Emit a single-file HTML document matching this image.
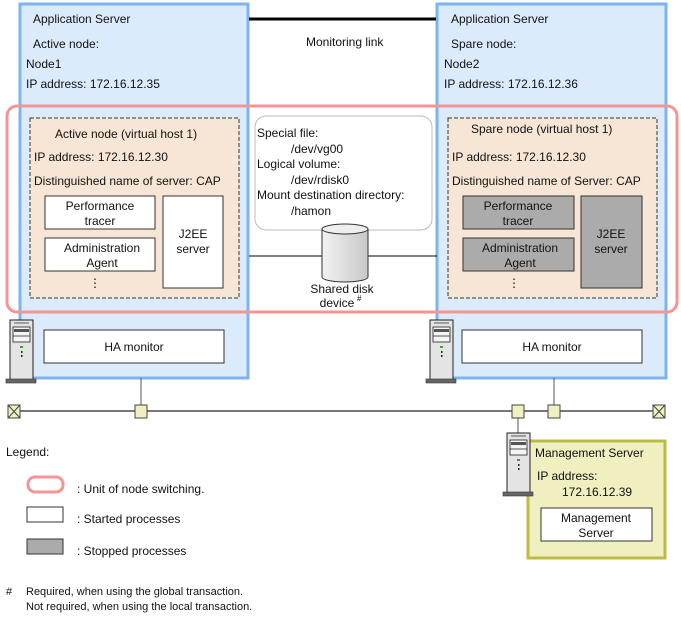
<!DOCTYPE html>
<html><head><meta charset="utf-8"><style>
body{margin:0;background:#fff}
svg text{font-family:"Liberation Sans",sans-serif;font-size:12px;fill:#111}
</style></head><body>
<svg width="681" height="617" viewBox="0 0 681 617" xmlns="http://www.w3.org/2000/svg">
<defs>
<g id="srv">
<rect x="4" y="0" width="23" height="60" fill="#e4e4e4" stroke="#222" stroke-width="1"/>
<line x1="8" y1="3" x2="23" y2="3" stroke="#888" stroke-width="1.5"/>
<rect x="7" y="7" width="17" height="15" fill="#f4f4f4" stroke="#222" stroke-width="0.8"/>
<rect x="8" y="9" width="15" height="3" fill="#555"/>
<line x1="7" y1="16" x2="24" y2="16" stroke="#222" stroke-width="0.8"/>
<rect x="14" y="26" width="3" height="2" fill="#3a3"/>
<rect x="15" y="31" width="1.5" height="2" fill="#222"/>
<rect x="15" y="35" width="1.5" height="2" fill="#222"/>
<rect x="0" y="59" width="30" height="4" fill="#666" stroke="#333" stroke-width="0.6"/>
</g>
</defs>
<!-- app servers -->
<rect x="20" y="4" width="228" height="374" fill="#dcebfb" stroke="#7db4ee" stroke-width="3"/>
<rect x="437" y="4" width="229" height="374" fill="#dcebfb" stroke="#7db4ee" stroke-width="3"/>
<line x1="249" y1="19" x2="436" y2="19" stroke="#000" stroke-width="3"/>
<text x="306" y="46">Monitoring link</text>
<text x="33" y="23">Application Server</text>
<text x="33" y="48">Active node:</text>
<text x="26" y="68">Node1</text>
<text x="26" y="88">IP address: 172.16.12.35</text>
<text x="451" y="23">Application Server</text>
<text x="451" y="48">Spare node:</text>
<text x="444" y="68">Node2</text>
<text x="444" y="88">IP address: 172.16.12.36</text>
<!-- shared disk line -->
<line x1="249" y1="256" x2="437" y2="256" stroke="#000" stroke-width="1"/>
<!-- red unit -->
<rect x="7" y="106" width="670" height="206" rx="10" fill="none" stroke="#f59494" stroke-width="3"/>
<!-- left dashed -->
<rect x="30" y="118" width="209" height="180" fill="#f7e6d6" stroke="#333" stroke-width="1" stroke-dasharray="4,2"/>
<text x="55" y="138">Active node (virtual host 1)</text>
<text x="34" y="161">IP address: 172.16.12.30</text>
<text x="34" y="185">Distinguished name of server: CAP</text>
<rect x="45" y="196" width="110" height="33" fill="#fff" stroke="#333"/>
<text x="100" y="210" text-anchor="middle">Performance</text>
<text x="100" y="225" text-anchor="middle">tracer</text>
<rect x="45" y="238" width="110" height="33" fill="#fff" stroke="#333"/>
<text x="102" y="252" text-anchor="middle">Administration</text>
<text x="102" y="267" text-anchor="middle">Agent</text>
<rect x="163" y="196" width="60" height="92" fill="#fff" stroke="#333"/>
<text x="193" y="238" text-anchor="middle">J2EE</text>
<text x="193" y="253" text-anchor="middle">server</text>
<text x="95" y="287" text-anchor="middle">⋮</text>
<!-- right dashed -->
<rect x="448" y="118" width="209" height="180" fill="#f7e6d6" stroke="#333" stroke-width="1" stroke-dasharray="4,2"/>
<text x="471" y="133">Spare node (virtual host 1)</text>
<text x="452" y="161">IP address: 172.16.12.30</text>
<text x="452" y="185">Distinguished name of Server: CAP</text>
<rect x="463" y="196" width="111" height="33" fill="#ababab" stroke="#333"/>
<text x="518" y="210" text-anchor="middle">Performance</text>
<text x="518" y="225" text-anchor="middle">tracer</text>
<rect x="463" y="238" width="111" height="33" fill="#ababab" stroke="#333"/>
<text x="520" y="252" text-anchor="middle">Administration</text>
<text x="520" y="267" text-anchor="middle">Agent</text>
<rect x="581" y="196" width="61" height="92" fill="#ababab" stroke="#333"/>
<text x="611" y="238" text-anchor="middle">J2EE</text>
<text x="611" y="253" text-anchor="middle">server</text>
<text x="514" y="287" text-anchor="middle">⋮</text>
<!-- center box -->
<rect x="255" y="116" width="177" height="114" rx="11" fill="#fff" stroke="#bbb"/>
<text x="257" y="137">Special file:</text>
<text x="291" y="153">/dev/vg00</text>
<text x="257" y="168">Logical volume:</text>
<text x="291" y="184">/dev/rdisk0</text>
<text x="257" y="199">Mount destination directory:</text>
<text x="291" y="215">/hamon</text>
<!-- cylinder -->
<defs><linearGradient id="cg" x1="0" x2="1"><stop offset="0" stop-color="#f2f2f2"/><stop offset="1" stop-color="#c8c8c8"/></linearGradient></defs>
<path d="M322,229 v48 a23,5 0 0 0 46,0 v-48" fill="url(#cg)" stroke="#333"/>
<ellipse cx="345" cy="229" rx="23" ry="5" fill="#eee" stroke="#333"/>
<text x="342" y="293" text-anchor="middle">Shared disk</text>
<text x="337" y="307" text-anchor="middle">device</text>
<text x="357" y="301" style="font-size:8px">#</text>
<!-- HA monitor -->
<rect x="44" y="330" width="180" height="33" fill="#fff" stroke="#333"/>
<text x="134" y="351" text-anchor="middle">HA monitor</text>
<rect x="462" y="330" width="180" height="33" fill="#fff" stroke="#333"/>
<text x="552" y="351" text-anchor="middle">HA monitor</text>
<use href="#srv" x="6" y="320"/>
<use href="#srv" x="426" y="320"/>
<!-- network -->
<line x1="14" y1="411" x2="659" y2="411" stroke="#777" stroke-width="2"/>
<line x1="141" y1="378" x2="141" y2="405" stroke="#555"/>
<line x1="554" y1="378" x2="554" y2="405" stroke="#555"/>
<line x1="518" y1="417" x2="518" y2="433" stroke="#555"/>
<g fill="#f0efc0" stroke="#444">
<rect x="135" y="405" width="12" height="13"/>
<rect x="512" y="405" width="12" height="13"/>
<rect x="548" y="405" width="12" height="13"/>
</g>
<g fill="#f0efc0" stroke="#444">
<rect x="8" y="405" width="12" height="13"/>
<path d="M8,405 L20,418 M20,405 L8,418"/>
<rect x="653" y="405" width="12" height="13"/>
<path d="M653,405 L665,418 M665,405 L653,418"/>
</g>
<!-- management server -->
<rect x="528" y="441" width="137" height="117" fill="#f0efbf" stroke="#bcbc44" stroke-width="3"/>
<use href="#srv" x="503" y="433"/>
<text x="535" y="457">Management Server</text>
<text x="537" y="480">IP address:</text>
<text x="562" y="496">172.16.12.39</text>
<rect x="541" y="508" width="111" height="33" fill="#fff" stroke="#333"/>
<text x="596" y="522" text-anchor="middle">Management</text>
<text x="596" y="537" text-anchor="middle">Server</text>
<!-- legend -->
<text x="6" y="456">Legend:</text>
<rect x="28" y="477" width="35" height="15" rx="7" fill="#fff" stroke="#f59494" stroke-width="3"/>
<text x="77" y="493">: Unit of node switching.</text>
<rect x="27" y="507" width="36" height="15" fill="#fff" stroke="#333"/>
<text x="77" y="523">: Started processes</text>
<rect x="27" y="539" width="36" height="15" fill="#ababab" stroke="#333"/>
<text x="77" y="555">: Stopped processes</text>
<text x="6" y="595" style="font-size:11px">#</text>
<text x="26" y="595" style="font-size:11px">Required, when using the global transaction.</text>
<text x="26" y="610" style="font-size:11px">Not required, when using the local transaction.</text>
</svg>
</body></html>
